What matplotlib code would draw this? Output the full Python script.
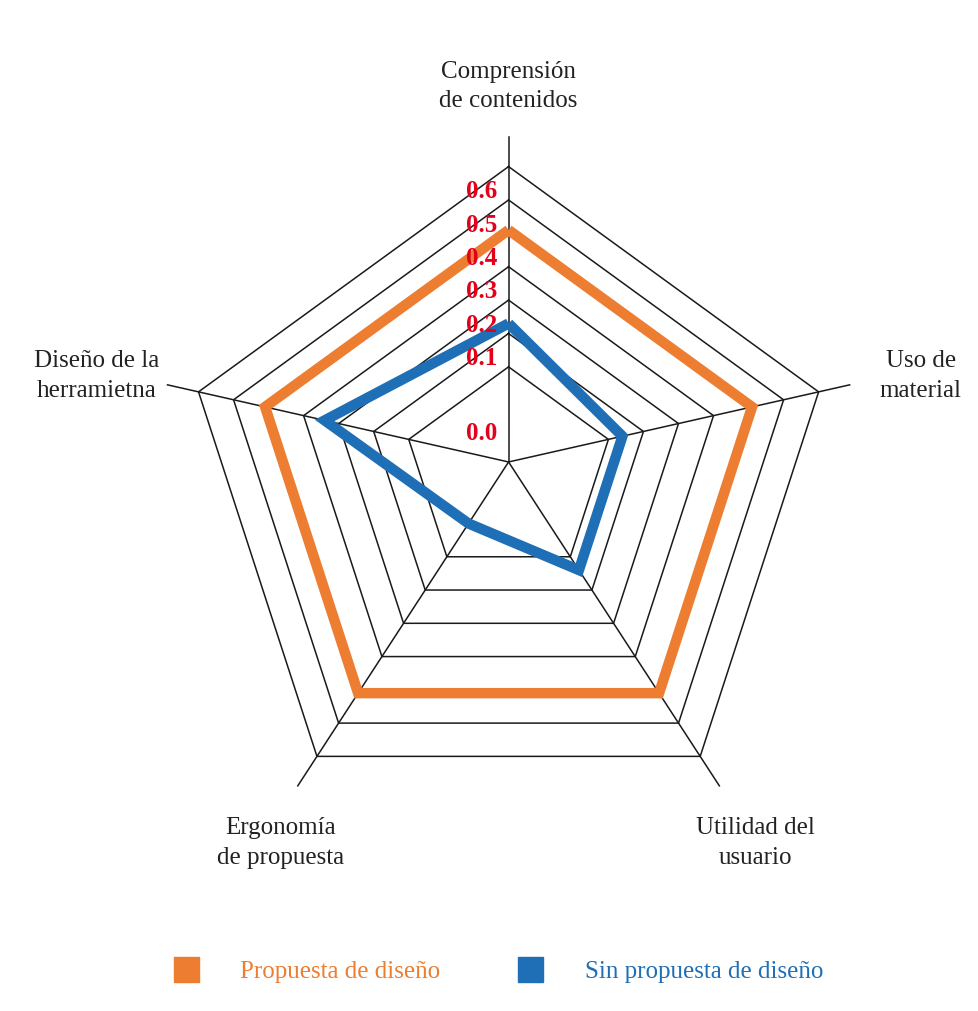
import numpy as np
import matplotlib
matplotlib.use("Agg")
import matplotlib.pyplot as plt
from matplotlib.lines import Line2D

# categorias (sentido horario desde arriba)
categorias = ["Comprensión\nde contenidos", "Uso de\nmaterial", "Utilidad del\nusuario",
              "Ergonomía\nde propuesta", "Diseño de la\nherramietna"]
series = ["Propuesta de diseño", "Sin propuesta de diseño"]
con_propuesta = [0.51, 0.51, 0.51, 0.51, 0.51]
sin_propuesta = [0.23, 0.14, 0.14, 0.0, 0.34]
anillos = [0.1, 0.2, 0.3, 0.4, 0.5, 0.6, 0.7]
etiquetas_r = ["0.0", "0.1", "0.2", "0.3", "0.4", "0.5", "0.6"]

colores = ["#ED7D31", "#1F6FB7"]
rojo = "#E2001A"
rmin, rmax = -0.185, 0.7

plt.rcParams["font.family"] = ["Liberation Serif", "DejaVu Serif"]

fig = plt.figure(figsize=(9.79, 10.12), dpi=100)
ax = fig.add_axes([0, 0, 1, 1])
ax.set_xlim(-1.560, 1.443)
ax.set_ylim(-1.590, 1.514)
ax.axis("off")

# direcciones del pentagono (centro de radios algo desplazado hacia arriba)
ang = np.deg2rad(90 - 72 * np.arange(5))
vert = np.column_stack([np.cos(ang), np.sin(ang)])
C = np.array([0.0, 0.094])

def frac(v):
    return (np.asarray(v) - rmin) / (rmax - rmin)

def punto(i, f):
    return C + f * (vert[i] - C)

def poligono(f):
    f = np.broadcast_to(f, (5,))
    p = np.array([punto(i, f[i]) for i in range(5)])
    return np.vstack([p, p[:1]])

# rejilla
for r in anillos:
    p = poligono(frac(r))
    ax.plot(p[:, 0], p[:, 1], color="#1a1a1a", lw=1.1, zorder=1)
for i in range(5):
    a, b = C, punto(i, 1.1)
    ax.plot([a[0], b[0]], [a[1], b[1]], color="#1a1a1a", lw=1.1, zorder=1)

# series
for vals, col in zip([con_propuesta, sin_propuesta], colores):
    p = poligono(frac(vals))
    ax.plot(p[:, 0], p[:, 1], color=col, lw=7.5, solid_joinstyle="miter",
            solid_capstyle="butt", zorder=3)

# etiquetas radiales
for k, lab in enumerate(etiquetas_r):
    f = 0.07 if k == 0 else frac(float(lab))
    y = punto(0, f)[1] + 0.028
    ax.text(C[0] - 0.034, y, lab, color=rojo, fontsize=18, fontweight="bold",
            ha="right", va="center", zorder=4)

# etiquetas de categorias
pos_f = [1.275, 1.33, 1.29, 1.29, 1.33]
nudge_x = [0.0, 0.0, 0.0, 0.06, 0.0]
nudge_y = [0.0, -0.02, 0.0, 0.0, -0.02]
for i, lab in enumerate(categorias):
    p = punto(i, pos_f[i])
    ax.text(p[0] + nudge_x[i], p[1] + nudge_y[i], lab, fontsize=18, ha="center",
            va="center", linespacing=1.45, color="#222222")

# leyenda
handles = [Line2D([], [], ls="", marker="s", markersize=18, color=c) for c in colores]
leg = fig.legend(handles, series, loc="center", bbox_to_anchor=(0.509, 0.0395),
                 ncol=2, frameon=False, fontsize=18, handlelength=1.0,
                 handletextpad=1.68, columnspacing=3.1)
for t, c in zip(leg.get_texts(), colores):
    t.set_color(c)

fig.savefig("out.png", dpi=100, facecolor="white")
